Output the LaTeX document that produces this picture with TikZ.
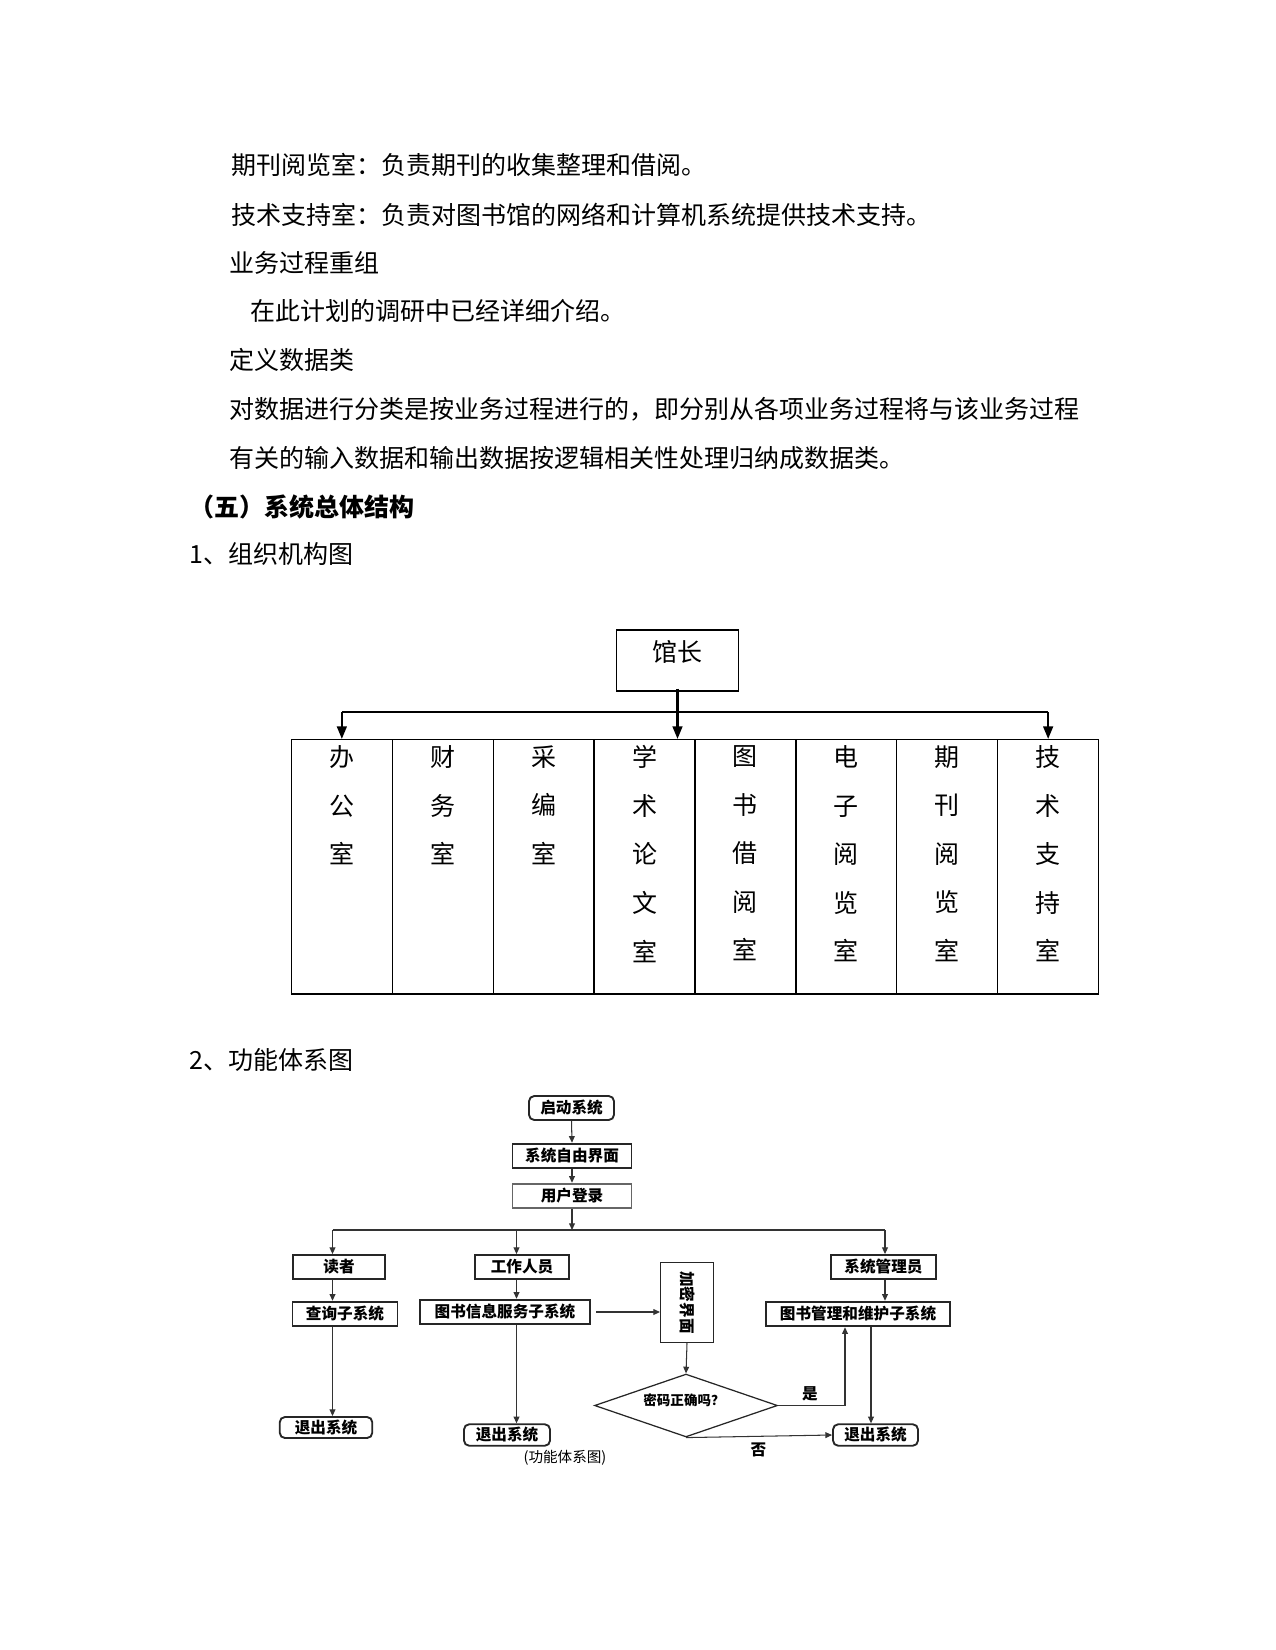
\documentclass[tikz,border=0pt]{standalone}
\usepackage{fontspec}
\setmainfont{Noto Sans CJK SC}
\usetikzlibrary{arrows.meta,shapes.geometric,positioning}

\tikzset{
  bodytxt/.style={anchor=west,inner sep=0pt,font=\fontsize{12}{14}\selectfont},
  orgbox/.style={draw,line width=0.6pt,inner sep=0pt},
  coltxt/.style={anchor=north,inner sep=0pt,yshift=-3pt,align=center,font=\fontsize{12}{23.3}\selectfont},
  orgline/.style={line width=1.1pt},
  orgarrow/.style={line width=1.1pt,-{Triangle[length=6pt,width=4.6pt]}},
  flowbox/.style={draw=black!85,line width=0.9pt,inner sep=0pt,font=\fontsize{7.5}{9}\selectfont\bfseries},
  flowstart/.style={flowbox,rounded corners=2.5pt},
  flowline/.style={line width=0.5pt,draw=black!80},
  flowarrow/.style={flowline,-{Triangle[length=3.2pt,width=2.8pt]}},
  flowlabel/.style={inner sep=0pt,font=\fontsize{7.5}{9}\selectfont\bfseries},
}

\begin{document}
\begin{tikzpicture}[x=0.48pt,y=0.48pt,yscale=-1,xscale=1]
\useasboundingbox (0,0) rectangle (1275,1650);

% Text Node
\node[bodytxt] (l1) at (231,165) {期刊阅览室：负责期刊的收集整理和借阅。};
% Text Node
\node[bodytxt] (l2) at (231,215) {技术支持室：负责对图书馆的网络和计算机系统提供技术支持。};
% Text Node
\node[bodytxt] (l3) at (229,263) {业务过程重组};
% Text Node
\node[bodytxt] (l4) at (250,311) {在此计划的调研中已经详细介绍。};
% Text Node
\node[bodytxt] (l5) at (229,360) {定义数据类};
% Text Node
\node[bodytxt] (l6) at (229,409) {对数据进行分类是按业务过程进行的，即分别从各项业务过程将与该业务过程};
% Text Node
\node[bodytxt] (l7) at (229,458) {有关的输入数据和输出数据按逻辑相关性处理归纳成数据类。};
% Text Node
\node[bodytxt,font=\fontsize{12}{14}\selectfont\bfseries] (l8) at (189,507) {（五）系统总体结构};
% Text Node
\node[bodytxt] (l9) at (189,554) {1、组织机构图};

%Organisation chart
\node[orgbox,minimum width=58.6pt,minimum height=29.3pt] (boss) at (677.5,660.5) {};
\node[coltxt,yshift=-2pt] (bosstxt) at (boss.north) {馆长};
\foreach \i in {1,...,8}
  \node[orgbox,minimum width=48.4pt,minimum height=122.1pt] (c\i) at ({291.4+100.9*(\i-0.5)},866.8) {};
\foreach \txt [count=\i] in {{办\\公\\室},{财\\务\\室},{采\\编\\室},{学\\术\\论\\文\\室},
    {图\\书\\借\\阅\\室},{电\\子\\阅\\览\\室},{期\\刊\\阅\\览\\室},{技\\术\\支\\持\\室}}
  \node[coltxt] (t\i) at (c\i.north) {\txt};
\coordinate (bus) at (677.5,712);
\draw[orgline] (c1.north |- bus) -- (c8.north |- bus);
\draw[orgarrow] ([yshift=-1.5pt]boss.south) -- (boss.south |- c4.north);
\draw[orgarrow] (c1.north |- bus) -- (c1.north);
\draw[orgarrow] (c8.north |- bus) -- (c8.north);

% Text Node
\node[bodytxt] (l10) at (189,1060) {2、功能体系图};

%Function chart
\node[flowstart,minimum width=40.8pt,minimum height=11.5pt] (start) at (571.5,1108) {启动系统};
\node[flowbox,minimum width=57.1pt,minimum height=11.8pt] (iface) at (572,1156) {系统自由界面};
\node[flowbox,draw=black!60,minimum width=57.1pt,minimum height=11.8pt] (login) at (572,1196) {用户登录};
\node[flowbox,minimum width=44.4pt,minimum height=11.5pt] (reader) at (339,1267) {读者};
\node[flowbox,minimum width=44.9pt,minimum height=11.5pt] (staff) at (522,1267) {工作人员};
\node[flowbox,minimum width=50.4pt,minimum height=11.5pt] (admin) at (883.5,1267) {系统管理员};
\node[flowbox,minimum width=50.4pt,minimum height=11.8pt] (query) at (345,1314) {查询子系统};
\node[flowbox,minimum width=81.6pt,minimum height=11.8pt] (info) at (505,1312) {图书信息服务子系统};
\node[flowbox,minimum width=88.3pt,minimum height=11.8pt] (mgmt) at (858,1314) {图书管理和维护子系统};
\node[flowbox,line width=0.7pt,minimum width=25.2pt,minimum height=38.4pt] (enc) at (687,1302.5) {};
\node[flowlabel,rotate=-90] (enctxt) at (enc.center) {加密界面};
\node[flowbox,line width=0.6pt,diamond,minimum width=87.8pt,minimum height=30.2pt] (dia) at (686,1405.5) {};
\node[flowlabel,font=\fontsize{6.5}{8}\selectfont\bfseries] (diatxt) at (684,1400) {密码正确吗？};
\node[flowstart,minimum width=44.4pt,minimum height=10.1pt] (exit1) at (326,1427.5) {退出系统};
\node[flowstart,minimum width=41.3pt,minimum height=10.3pt] (exit2) at (507,1435) {退出系统};
\node[flowstart,minimum width=40.8pt,minimum height=10.3pt] (exit3) at (875.5,1435) {退出系统};

\coordinate (busL) at (332.5,1230);
\coordinate (busM) at (516.5,1230);
\coordinate (busR) at (885,1230);
\coordinate (mlane) at (871,1314);
\coordinate (yes) at (845,1405.5);

\draw[flowarrow] (start.south) -- (iface.north);
\draw[flowarrow] (iface.south) -- (login.north);
\draw[flowarrow] (login.south) -- (login.south |- busL);
\draw[flowline] (busL) -- (busR);
\draw[flowarrow] (busL) -- (busL |- reader.north);
\draw[flowarrow] (busL |- reader.south) -- (busL |- query.north);
\draw[flowarrow] (busL |- query.south) -- (busL |- exit1.north);
\draw[flowarrow] (busM) -- (busM |- staff.north);
\draw[flowarrow] (busM |- staff.south) -- (busM |- info.north);
\draw[flowarrow] (busM |- info.south) -- (busM |- exit2.north);
\draw[flowarrow] (busR) -- (busR |- admin.north);
\draw[flowarrow] (busR |- admin.south) -- (busR |- mgmt.north);
\draw[flowarrow] (mlane |- mgmt.south) -- (mlane |- exit3.north);
\draw[flowarrow,shorten <=2.5pt] (info.east) -- (info.east -| enc.west);
\draw[flowarrow] (enc.south) -- (dia.north);
\draw[flowarrow] (dia.east) -- (yes) -- (yes |- mgmt.south);
\draw[flowarrow] (dia.south) -- (exit3.west);

% Text Node
\node[flowlabel] (yeslbl) at (810,1394) {是};
% Text Node
\node[flowlabel] (nolbl) at (758.5,1450) {否};
% Text Node
\node[inner sep=0pt,font=\fontsize{7}{8}\selectfont] (caption) at (565,1458) {(功能体系图)};

\end{tikzpicture}
\end{document}
